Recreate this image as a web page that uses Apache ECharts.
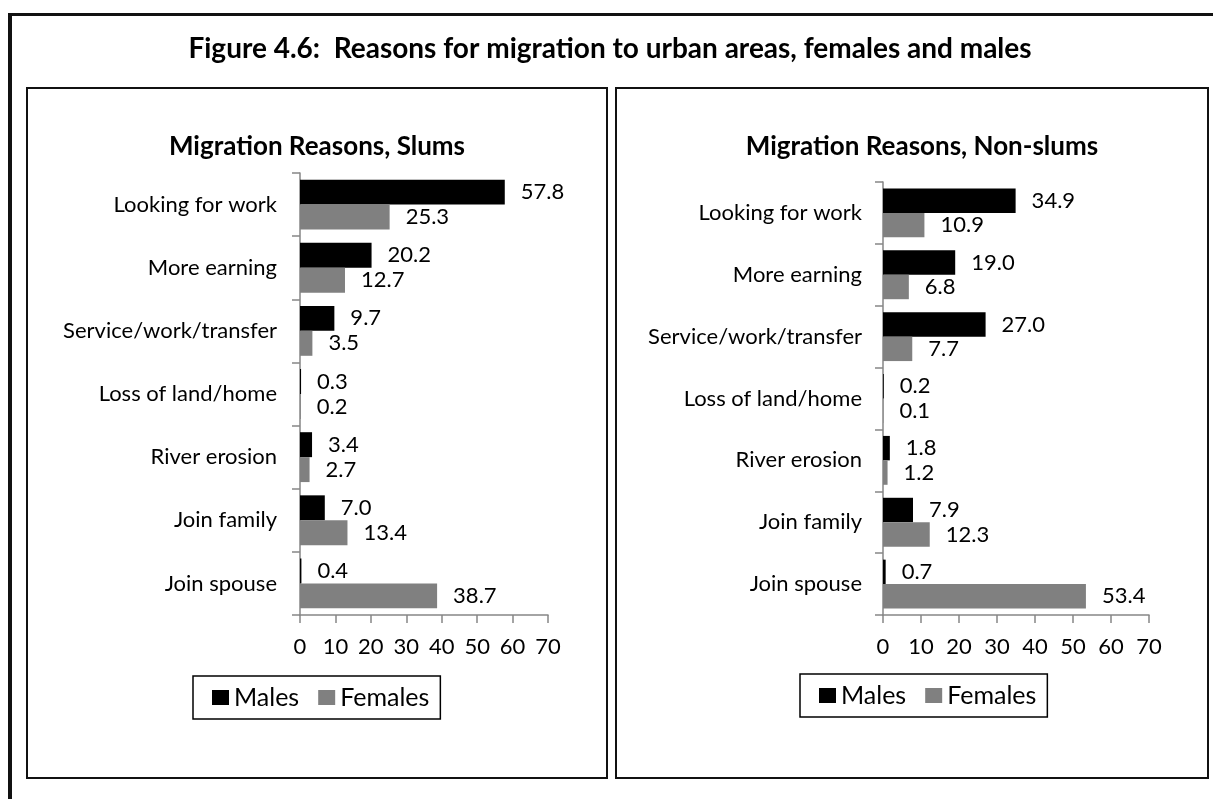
<!DOCTYPE html>
<html>
<head>
<meta charset="utf-8">
<script src="https://cdn.jsdelivr.net/npm/echarts@6/dist/echarts.min.js"></script>
<style>
  html, body { margin: 0; padding: 0; background: #fff; }
  #chart { width: 1213px; height: 799px; }
</style>
</head>
<body>
<div id="chart"></div>
<script>
// data
const reasons = ['Looking for work', 'More earning', 'Service/work/transfer', 'Loss of land/home', 'River erosion', 'Join family', 'Join spouse'];
const slumMales = [57.8, 20.2, 9.7, 0.3, 3.4, 7.0, 0.4];
const slumFemales = [25.3, 12.7, 3.5, 0.2, 2.7, 13.4, 38.7];
const nonSlumMales = [34.9, 19.0, 27.0, 0.2, 1.8, 7.9, 0.7];
const nonSlumFemales = [10.9, 6.8, 7.7, 0.1, 1.2, 12.3, 53.4];
const seriesNames = ['Males', 'Females'];

const FONT = 'Lato, "Liberation Sans", sans-serif';
const axisGray = '#868686';

const chart = echarts.init(document.getElementById('chart'));

const makeAxes = (gridIndex, labelMargin) => ({
  x: {
    type: 'value', gridIndex: gridIndex, min: 0, max: 70, interval: 10,
    splitLine: { show: false },
    axisLine: { show: true, lineStyle: { color: axisGray, width: 1.5 } },
    axisTick: { show: true, length: 8, lineStyle: { color: axisGray, width: 1.5 } },
    axisLabel: { margin: 21, fontSize: 22, lineHeight: 22, color: '#000', fontFamily: FONT }
  },
  y: {
    type: 'category', gridIndex: gridIndex, data: reasons, inverse: true,
    axisLine: { show: true, lineStyle: { color: axisGray, width: 1.5 } },
    axisTick: { show: true, length: 8, lineStyle: { color: axisGray, width: 1.5 } },
    axisLabel: { margin: labelMargin, fontSize: 22, color: '#000', fontFamily: FONT }
  }
});

const left = makeAxes(0, 23);
const right = makeAxes(1, 21);

const barSeries = (name, data, idx, color) => ({
  name: name, type: 'bar', xAxisIndex: idx, yAxisIndex: idx,
  data: data, barGap: '0%', barCategoryGap: '21%',
  itemStyle: { color: color },
  label: {
    show: true, position: 'right', distance: 16,
    fontSize: 22, color: '#000', fontFamily: FONT,
    formatter: (p) => p.value.toFixed(1)
  }
});

const legendCfg = (l, t) => ({
  left: l, top: t, data: seriesNames,
  orient: 'horizontal', icon: 'rect', itemWidth: 17, itemHeight: 15, itemGap: 19,
  padding: [9, 11, 9, 19],
  borderColor: '#000', borderWidth: 1.5,
  textStyle: { fontSize: 25, lineHeight: 24, color: '#000', fontFamily: FONT },
  selectedMode: false
});

chart.setOption({
  animation: false,
  title: [
    { text: 'Figure 4.6:  Reasons for migration to urban areas, females and males', left: 610, top: 35, textAlign: 'center', padding: 0,
      textStyle: { fontSize: 28, lineHeight: 28, fontWeight: 'bold', color: '#000', fontFamily: FONT } },
    { text: 'Migration Reasons, Slums', left: 317, top: 134, textAlign: 'center', padding: 0,
      textStyle: { fontSize: 26, lineHeight: 26, fontWeight: 'bold', color: '#000', fontFamily: FONT } },
    { text: 'Migration Reasons, Non-slums', left: 922, top: 134, textAlign: 'center', padding: 0,
      textStyle: { fontSize: 26, lineHeight: 26, fontWeight: 'bold', color: '#000', fontFamily: FONT } }
  ],
  legend: [legendCfg(193, 676), legendCfg(800, 674)],
  grid: [
    { left: 300, width: 248, top: 173, height: 442, containLabel: false },
    { left: 883, width: 266, top: 182, height: 433, containLabel: false }
  ],
  xAxis: [left.x, right.x],
  yAxis: [left.y, right.y],
  series: [
    barSeries('Males', slumMales, 0, '#000000'),
    barSeries('Females', slumFemales, 0, '#808080'),
    barSeries('Males', nonSlumMales, 1, '#000000'),
    barSeries('Females', nonSlumFemales, 1, '#808080')
  ],
  graphic: [
    // outer frame
    { type: 'line', shape: { x1: 8, y1: 14.5, x2: 1213, y2: 14.5 }, style: { stroke: '#111', lineWidth: 3 } },
    { type: 'line', shape: { x1: 10, y1: 13, x2: 10, y2: 799 }, style: { stroke: '#111', lineWidth: 4 } },
    // panels
    { type: 'rect', shape: { x: 27, y: 88, width: 580, height: 690 }, style: { fill: 'none', stroke: '#111', lineWidth: 2 } },
    { type: 'rect', shape: { x: 616, y: 88, width: 592, height: 690 }, style: { fill: 'none', stroke: '#111', lineWidth: 2 } }
  ]
});
</script>
</body>
</html>
